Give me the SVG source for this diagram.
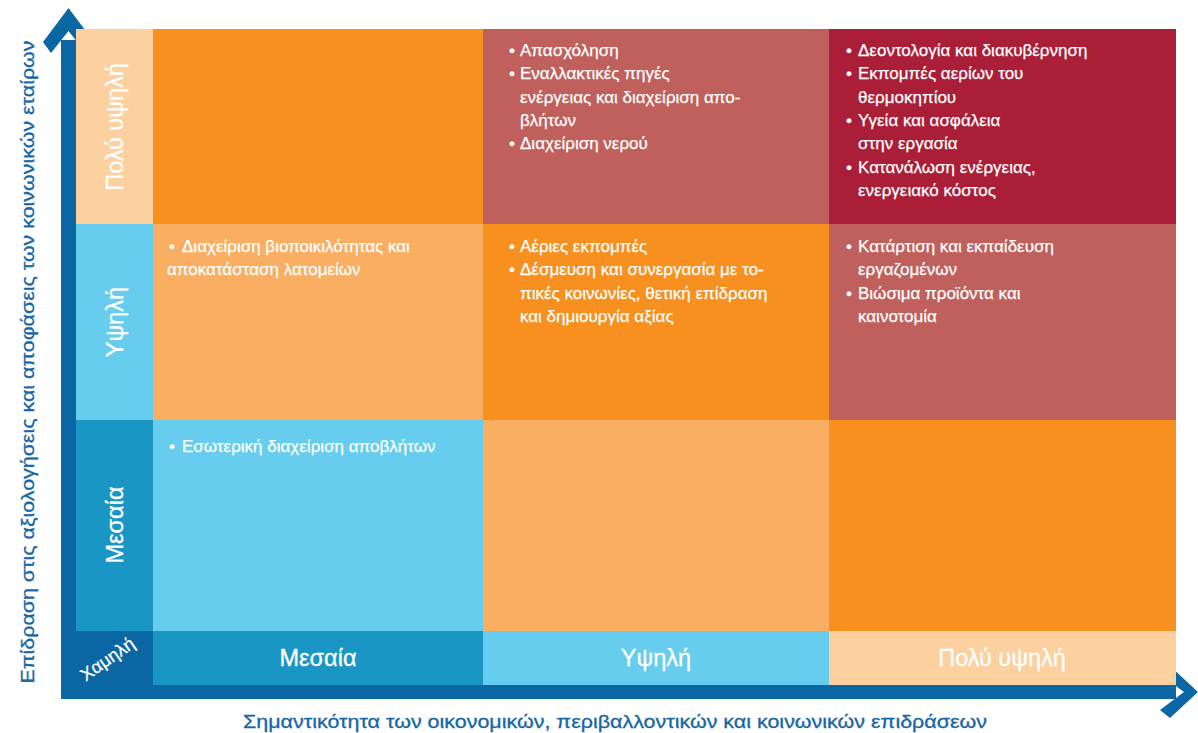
<svg xmlns="http://www.w3.org/2000/svg" width="1198" height="733" viewBox="0 0 1198 733">
<style>
.t{font-family:"Liberation Sans",Arial,sans-serif;font-size:17px;fill:#ffffff;stroke:#ffffff;stroke-width:0.25px}
.ax{font-family:"Liberation Sans",Arial,sans-serif;font-size:23.5px;fill:#ffffff;text-anchor:middle;stroke:#ffffff;stroke-width:0.3px}
.ttl{font-family:"Liberation Sans",Arial,sans-serif;font-size:19px;fill:#1466a5;text-anchor:middle;stroke:#1466a5;stroke-width:0.3px}
.dk{fill:#0b67a3}
.c-or{fill:#f7901e}
.c-lo{fill:#f9ae62}
.c-ro{fill:#c0605c}
.c-cr{fill:#ab1e37}
.c-lb{fill:#66cdee}
.c-mb{fill:#1a96c5}
.c-pe{fill:#fdd09f}
</style>
<rect width="1198" height="733" fill="#ffffff"/>

<g id="connectors">
  <rect class="dk" x="61" y="40" width="15" height="659"/>
  <rect class="dk" x="61" y="630" width="92" height="69"/>
  <rect class="dk" x="61" y="685" width="1115" height="14"/>
  <polygon class="dk" points="68.5,8 94,42 86,53 68.5,31 51,53 43,42"/>
  <polygon class="dk" points="1198,692 1170,718 1160,710 1184,692 1160,674 1170,666"/>
</g>

<g id="y-axis-title">
  <text class="ttl" transform="translate(34,362) rotate(-90)" textLength="643" lengthAdjust="spacingAndGlyphs">Επίδραση στις αξιολογήσεις και αποφάσεις των κοινωνικών εταίρων</text>
</g>
<g id="x-axis-title">
  <text class="ttl" x="615" y="728" textLength="744" lengthAdjust="spacingAndGlyphs">Σημαντικότητα των οικονομικών, περιβαλλοντικών και κοινωνικών επιδράσεων</text>
</g>

<g id="y-level-very-high">
  <rect class="c-pe" x="76" y="29" width="77" height="195"/>
  <text class="ax" transform="translate(123,127) rotate(-90)">Πολύ υψηλή</text>
</g>
<g id="y-level-high">
  <rect class="c-lb" x="76" y="224" width="77" height="196"/>
  <text class="ax" transform="translate(123,322) rotate(-90)">Υψηλή</text>
</g>
<g id="y-level-medium">
  <rect class="c-mb" x="76" y="420" width="77" height="211"/>
  <text class="ax" transform="translate(123,525) rotate(-90)">Μεσαία</text>
</g>
<g id="low-label">
  <text class="t" style="font-size:18px" text-anchor="middle" transform="translate(111,664) rotate(-35)">Χαμηλή</text>
</g>
<g id="x-level-medium">
  <rect class="c-mb" x="153" y="631" width="330" height="54"/>
  <text class="ax" x="318" y="666">Μεσαία</text>
</g>
<g id="x-level-high">
  <rect class="c-lb" x="483" y="631" width="346" height="54"/>
  <text class="ax" x="656" y="666">Υψηλή</text>
</g>
<g id="x-level-very-high">
  <rect class="c-pe" x="829" y="631" width="347" height="54"/>
  <text class="ax" x="1002" y="666">Πολύ υψηλή</text>
</g>

<g id="cell-r1c1"><rect class="c-or" x="153" y="29" width="330" height="195"/></g>
<g id="cell-r1c2">
  <rect class="c-ro" x="483" y="29" width="346" height="195"/>
  <text class="t">
    <tspan x="509" y="56">•</tspan><tspan x="520" y="56">Απασχόληση</tspan>
    <tspan x="509" y="79.3">•</tspan><tspan x="520" y="79.3">Εναλλακτικές πηγές</tspan>
    <tspan x="520" y="102.6">ενέργειας και διαχείριση απο-</tspan>
    <tspan x="520" y="126">βλήτων</tspan>
    <tspan x="509" y="149.3">•</tspan><tspan x="520" y="149.3">Διαχείριση νερού</tspan>
  </text>
</g>
<g id="cell-r1c3">
  <rect class="c-cr" x="829" y="29" width="347" height="195"/>
  <text class="t">
    <tspan x="846" y="56">•</tspan><tspan x="858" y="56">Δεοντολογία και διακυβέρνηση</tspan>
    <tspan x="846" y="79.3">•</tspan><tspan x="858" y="79.3">Εκπομπές αερίων του</tspan>
    <tspan x="858" y="102.6">θερμοκηπίου</tspan>
    <tspan x="846" y="126">•</tspan><tspan x="858" y="126">Υγεία και ασφάλεια</tspan>
    <tspan x="858" y="149.3">στην εργασία</tspan>
    <tspan x="846" y="172.6">•</tspan><tspan x="858" y="172.6">Κατανάλωση ενέργειας,</tspan>
    <tspan x="858" y="196">ενεργειακό κόστος</tspan>
  </text>
</g>

<g id="cell-r2c1">
  <rect class="c-lo" x="153" y="224" width="330" height="196"/>
  <text class="t">
    <tspan x="169" y="252">•</tspan><tspan x="182" y="252">Διαχείριση βιοποικιλότητας και</tspan>
    <tspan x="167" y="275.3">αποκατάσταση λατομείων</tspan>
  </text>
</g>
<g id="cell-r2c2">
  <rect class="c-or" x="483" y="224" width="346" height="196"/>
  <text class="t">
    <tspan x="509" y="252">•</tspan><tspan x="520" y="252">Αέριες εκπομπές</tspan>
    <tspan x="509" y="275.3">•</tspan><tspan x="520" y="275.3">Δέσμευση και συνεργασία με το-</tspan>
    <tspan x="520" y="298.6">πικές κοινωνίες, θετική επίδραση</tspan>
    <tspan x="520" y="322">και δημιουργία αξίας</tspan>
  </text>
</g>
<g id="cell-r2c3">
  <rect class="c-ro" x="829" y="224" width="347" height="196"/>
  <text class="t">
    <tspan x="846" y="252">•</tspan><tspan x="858" y="252">Κατάρτιση και εκπαίδευση</tspan>
    <tspan x="858" y="275.3">εργαζομένων</tspan>
    <tspan x="846" y="298.6">•</tspan><tspan x="858" y="298.6">Βιώσιμα προϊόντα και</tspan>
    <tspan x="858" y="322">καινοτομία</tspan>
  </text>
</g>

<g id="cell-r3c1">
  <rect class="c-lb" x="153" y="420" width="330" height="211"/>
  <text class="t">
    <tspan x="169" y="452">•</tspan><tspan x="182" y="452">Εσωτερική διαχείριση αποβλήτων</tspan>
  </text>
</g>
<g id="cell-r3c2"><rect class="c-lo" x="483" y="420" width="346" height="211"/></g>
<g id="cell-r3c3"><rect class="c-or" x="829" y="420" width="347" height="211"/></g>
</svg>
